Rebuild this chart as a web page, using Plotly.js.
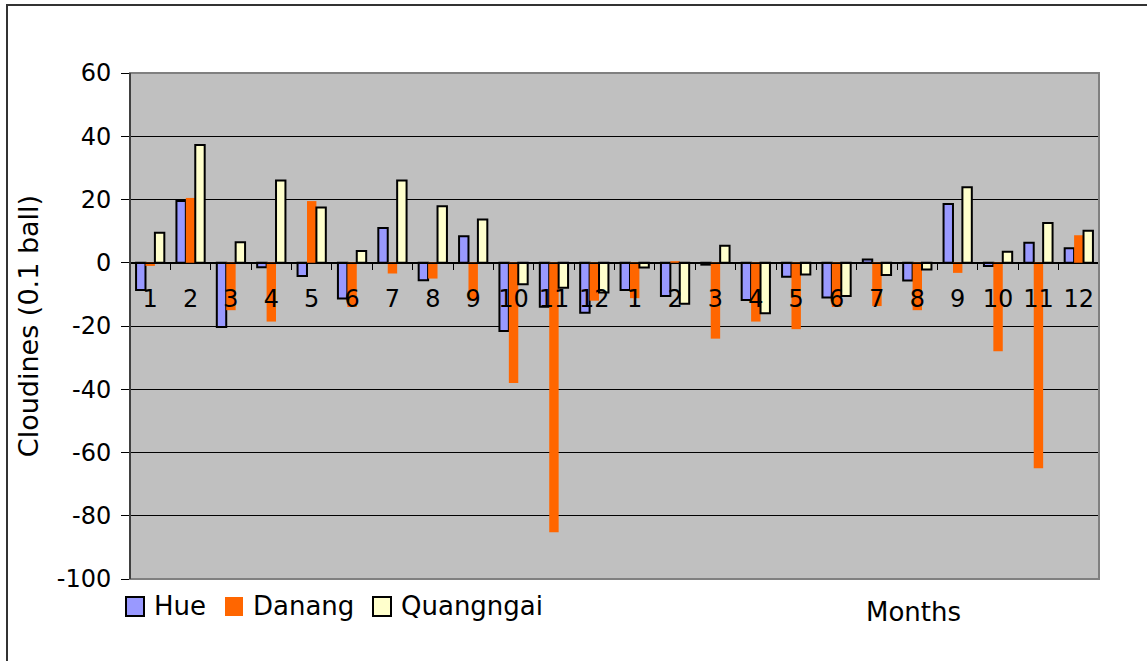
<!DOCTYPE html>
<html>
<head>
<meta charset="utf-8">
<script src="https://cdn.plot.ly/plotly-3.0.1.min.js"></script>
<style>
html,body{margin:0;padding:0;background:#fff;}
#wrap{position:relative;width:1147px;height:661px;overflow:hidden;}
#chart{width:1147px;height:661px;}
#frame{position:absolute;left:6px;top:4px;width:1200px;height:700px;border-top:2px solid #333;border-left:2px solid #333;pointer-events:none;}
</style>
</head>
<body>
<div id="wrap"><div id="chart"></div><div id="frame"></div></div>
<script>
const months = ['1','2','3','4','5','6','7','8','9','10','11','12','1','2','3','4','5','6','7','8','9','10','11','12'];
const hue = [-8.6, 19.5, -20.3, -1.4, -4.2, -11.3, 11, -5.5, 8.4, -21.6, -13.9, -15.8, -8.6, -10.5, -0.6, -11.8, -4.4, -11, 1, -5.6, 18.6, -1, 6.3, 4.6];
const danang = [-1, 20.5, -15, -18.6, 19.5, -14, -3.4, -5, -12, -38, -85.2, -12, -11.2, 0.5, -24, -18.6, -21, -14, -13.7, -15, -3.2, -28, -65, 8.7];
const quangngai = [9.5, 37.2, 6.5, 26, 17.5, 3.7, 26, 17.9, 13.7, -6.8, -7.9, -9.4, -1.5, -13, 5.4, -16, -3.7, -10.5, -3.9, -2.1, 23.9, 3.5, 12.6, 10.1];
const yTickVals = [-100, -80, -60, -40, -20, 0, 20, 40, 60];
const yTickText = ['-100', '-80', '-60', '-40', '-20', '0', '20', '40', '60'];
const seriesNames = ['Hue', 'Danang', 'Quangngai'];
const idx = months.map((m, i) => i);

const styles = [
  {color:'#9999FF', line:'#000', lw:2},
  {color:'#FF6600', line:'#FF6600', lw:0},
  {color:'#FFFFCC', line:'#000', lw:2}
];
const seriesData = [hue, danang, quangngai];

const traces = seriesNames.map((n, k) => ({
  type:'bar', name:n, x:idx, y:seriesData[k], showlegend:false,
  marker:{color:styles[k].color, line:{color:styles[k].line, width:styles[k].lw}}
}));

// plot area in pixels for custom legend placement
const L = 130, R = 1099, T = 73, B = 579;
const px2x = p => (p - L) / (R - L);
const px2y = p => (B - p) / (B - T);

const legendSquares = [125, 224, 372];
const shapes = [
  {type:'rect', xref:'paper', yref:'paper', x0:0, x1:1, y0:0, y1:1, line:{color:'#808080', width:2}, layer:'above'},
  {type:'line', xref:'paper', yref:'paper', x0:0, x1:0, y0:0, y1:1, line:{color:'#000', width:1}, layer:'above'}
];
const annotations = [
  {text:'Months', xref:'paper', yref:'paper', x:px2x(913), y:px2y(612), xanchor:'center', yanchor:'middle', showarrow:false,
   font:{family:'DejaVu Sans', size:26, color:'#000'}}
];
seriesNames.forEach((n, k) => {
  const sx = legendSquares[k];
  shapes.push({type:'rect', xref:'paper', yref:'paper', x0:px2x(sx+1), x1:px2x(sx+19), y0:px2y(616), y1:px2y(597),
    fillcolor:styles[k].color, line:{color: styles[k].lw ? '#000' : styles[k].color, width: styles[k].lw ? 2 : 0}, layer:'above'});
  annotations.push({text:n, xref:'paper', yref:'paper', x:px2x(sx+27), y:px2y(606), xanchor:'left', yanchor:'middle',
    showarrow:false, font:{family:'DejaVu Sans', size:26, color:'#000'}});
});

const layout = {
  width:1147, height:661,
  margin:{l:L, r:1147-R, t:T, b:661-B},
  paper_bgcolor:'rgba(0,0,0,0)',
  plot_bgcolor:'#C0C0C0',
  barmode:'group', bargap:0.3, bargroupgap:0,
  showlegend:false,
  xaxis:{
    range:[-0.5, 23.5], anchor:'free', position:0.625,
    tickmode:'array', tickvals:idx, ticktext:months,
    ticks:'', showgrid:false, zeroline:false,
    showline:true, linecolor:'#000', linewidth:1,
    tickfont:{family:'DejaVu Sans', size:24, color:'#000'},
    ticklabelstandoff:14,
    minor:{tickmode:'linear', tick0:-0.5, dtick:1, ticks:'outside', ticklen:6, tickcolor:'#000', tickwidth:1, showgrid:false}
  },
  yaxis:{
    range:[-100, 60], tickmode:'array', tickvals:yTickVals, ticktext:yTickText,
    showgrid:true, gridcolor:'#000', gridwidth:1, zeroline:false,
    showline:true, linecolor:'#000', linewidth:1,
    ticks:'outside', ticklen:8, tickcolor:'#000',
    ticklabelstandoff:5,
    tickfont:{family:'DejaVu Sans', size:24, color:'#000'},
    title:{text:'Cloudines (0.1 ball)', font:{family:'DejaVu Sans', size:27, color:'#000'}, standoff:10}
  },
  shapes:shapes,
  annotations:annotations
};

Plotly.newPlot('chart', traces, layout, {displayModeBar:false, staticPlot:true});
</script>
</body>
</html>
